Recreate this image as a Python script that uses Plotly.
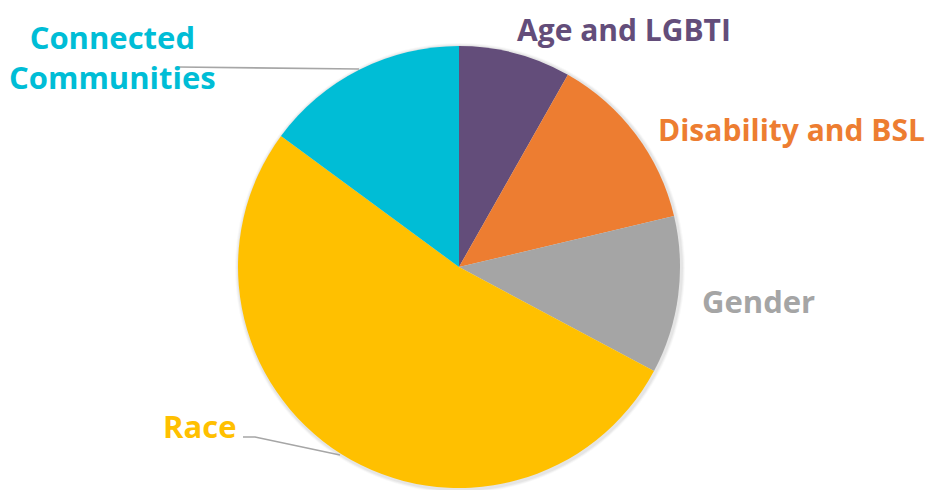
import plotly.graph_objects as go

# Data
categories = ["Age and LGBTI", "Disability and BSL", "Gender", "Race", "Connected Communities"]
values = [8.2, 13.1, 11.5, 52.3, 14.9]
colors = ["#634D7A", "#ED7D31", "#A5A5A5", "#FFC000", "#00BDD6"]

# page has an 8px body margin; figure sized to fit the window
OFF = 8
W, H = 936 - OFF, 490 - OFF
cx, cy, r = 459, 267, 221

def px(x):
    return (x - OFF) / W

def py(y):
    return 1 - (y - OFF) / H

fig = go.Figure()

# soft shadow behind pie
for d, op in [(4, 0.025), (3, 0.035), (2, 0.045)]:
    fig.add_shape(type="circle", xref="paper", yref="paper",
                  x0=px(cx - r - d + 1), x1=px(cx + r + d + 1),
                  y0=py(cy + r + d + 1), y1=py(cy - r - d + 1),
                  fillcolor=f"rgba(0,0,0,{op})", line_width=0, layer="below")

fig.add_trace(go.Pie(
    labels=categories,
    values=values,
    sort=False,
    direction="clockwise",
    rotation=0,
    marker=dict(colors=colors, line=dict(width=0)),
    textinfo="none",
    hoverinfo="label+percent",
    showlegend=False,
    domain=dict(x=[px(cx - r), px(cx + r)], y=[py(cy + r), py(cy - r)]),
))

font_family = "Open Sans"
# (x, y, xanchor, yanchor, size)
label_pos = {
    "Age and LGBTI": (624, 8, "center", "top", 30),
    "Disability and BSL": (926, 129, "right", "middle", 30),
    "Gender": (758, 301, "center", "middle", 31),
    "Race": (199, 426, "center", "middle", 31),
    "Connected Communities": (112, 57, "center", "middle", 31),
}
label_text = {
    "Connected Communities": "Connected<br>Communities",
}
for cat, col in zip(categories, colors):
    x, y, xa, ya, sz = label_pos[cat]
    fig.add_annotation(
        x=px(x), y=py(y), xref="paper", yref="paper",
        text=label_text.get(cat, cat), showarrow=False,
        xanchor=xa, yanchor=ya, borderpad=0,
        font=dict(family=font_family, size=sz, color=col, weight=700),
    )

# leader lines
line_style = dict(color="#A6A6A6", width=1.6)
fig.add_shape(type="path", xref="paper", yref="paper",
              path=f"M {px(178)} {py(67)} L {px(359)} {py(69)}", line=line_style)
fig.add_shape(type="path", xref="paper", yref="paper",
              path=f"M {px(243)} {py(437)} L {px(255)} {py(437)} L {px(340)} {py(455)}",
              line=line_style)

fig.update_layout(
    width=W, height=H,
    margin=dict(l=0, r=0, t=0, b=0),
    paper_bgcolor="white",
    plot_bgcolor="white",
)

fig.write_html("out.html")
